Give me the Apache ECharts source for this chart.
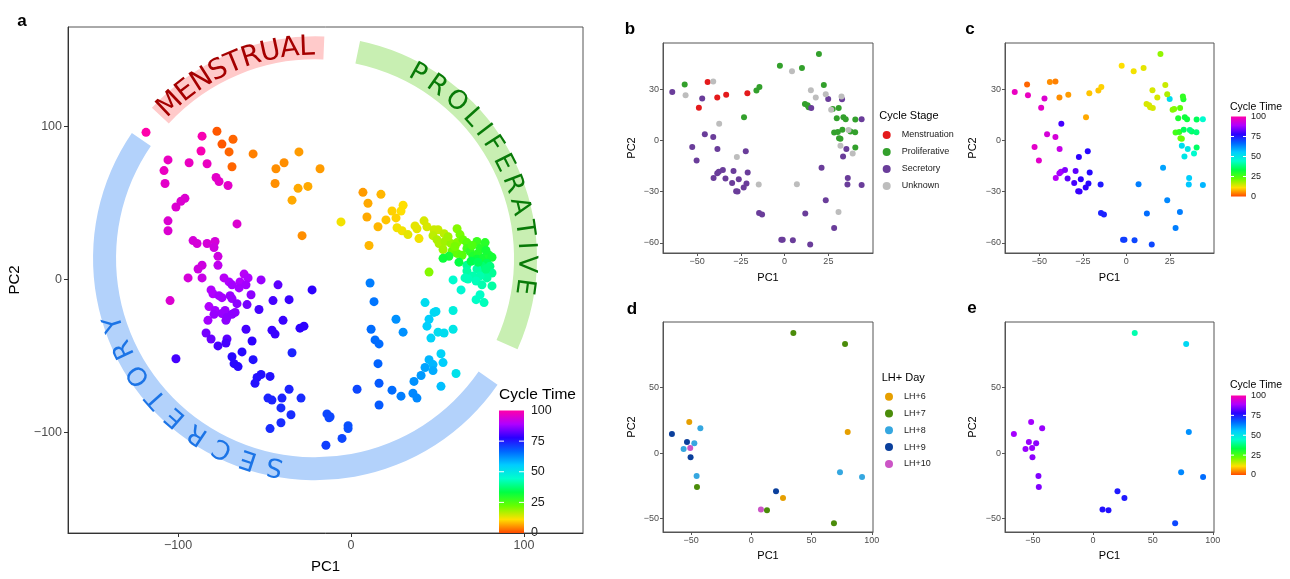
<!DOCTYPE html>
<html>
<head>
<meta charset="utf-8">
<script src="https://cdn.jsdelivr.net/npm/echarts@6/dist/echarts.min.js"></script>
<style>
  html, body { margin: 0; padding: 0; background: #fff; }
  #chart { width: 1290px; height: 579px; }
</style>
</head>
<body>
<div id="chart"></div>
<script>
// ---- data ----
// panel a: [PC1, PC2, cycle time]
const aPoints = [
  [-118.5,96.1,100],[-86.1,93.6,99],[-77.5,96.8,1],[-68.2,91.6,2],[-74.6,88.4,1],[-70.5,83.3,2],
  [-86.7,83.9,99],[-56.6,82.0,4],[-30.1,83.3,6],[-105.8,78.1,97],[-93.6,76.2,97],[-83.2,75.6,97],
  [-68.8,73.6,2],[-38.7,76.2,5],[-43.4,72.3,5],[-17.9,72.3,6],[-108.1,71.1,97],[-78.0,66.6,96],
  [-76.3,64.0,96],[-71.1,61.4,96],[-107.5,62.7,96],[-43.9,62.7,5],[-30.6,59.5,7],[-24.9,60.8,7],
  [-96.0,53.0,95],[-98.3,51.1,95],[-34.1,51.8,7],[-101.2,47.3,95],[-5.8,37.6,12],[-105.8,38.3,95],
  [-65.9,36.3,95],[-105.8,31.8,95],[-28.3,28.6,5],[-91.3,25.4,94],[-89.0,23.5,94],[-83.2,23.5,94],
  [-78.6,24.8,94],[-79.2,20.9,93],[-76.9,15.1,93],[-76.9,9.3,91],[-86.1,9.3,93],[-88.4,6.8,93],
  [-94.2,1.0,94],[-86.1,1.0,92],[-73.4,1.0,90],[-70.5,-1.6,89],[-68.8,-3.5,88],[-64.2,-1.6,89],
  [-61.8,3.5,90],[-59.5,1.0,89],[-60.7,-3.5,88],[-64.7,-5.5,88],[-52.0,-0.3,87],[-42.2,-3.5,82],
  [-22.5,-6.8,78],[-104.6,-13.8,95],[-80.9,-6.8,89],[-79.8,-9.3,89],[-76.3,-10.6,88],[-74.6,-11.9,88],
  [-69.9,-10.6,87],[-68.8,-12.5,87],[-65.9,-15.8,86],[-60.1,-16.4,84],[-57.8,-10.0,86],[-53.2,-19.6,80],
  [-45.1,-13.8,80],[-35.8,-13.2,79],[-82.1,-17.7,89],[-78.6,-20.3,88],[-79.2,-22.8,87],[-74.6,-22.2,87],
  [-72.8,-20.3,87],[-71.7,-24.8,86],[-68.8,-22.8,86],[-67.0,-21.5,86],[-72.3,-26.7,86],[-82.7,-26.7,88],
  [-39.3,-26.7,79],[-60.7,-32.5,80],[-45.7,-33.1,79],[-43.9,-35.7,79],[-29.5,-31.8,78],[-27.2,-30.5,78],
  [-83.8,-35.0,84],[-80.9,-38.9,83],[-71.7,-38.9,82],[-72.3,-41.5,80],[-76.9,-43.4,80],[-57.2,-40.2,78],
  [-101.2,-51.8,80],[-63.0,-47.3,77],[-34.1,-47.9,74],[-68.8,-50.5,77],[-56.6,-52.4,76],[-67.6,-55.0,77],
  [-65.3,-56.9,77],[-52.0,-62.1,76],[-46.8,-63.3,76],[-54.3,-64.0,76],[-55.5,-67.8,76],[-35.8,-71.7,74],
  [-48.0,-77.5,74],[-45.7,-78.8,74],[-39.9,-77.5,74],[-28.9,-77.5,73],[-40.5,-83.9,73],[-34.7,-88.4,73],
  [-40.5,-93.6,73],[-46.8,-97.4,73],[-13.9,-87.8,70],[-12.1,-89.7,70],[-12.7,-90.3,70],[-1.7,-95.5,69],
  [-1.7,-97.4,69],[-5.2,-103.8,70],[-14.5,-108.3,71],[11.0,-2.3,64],[13.3,-14.5,65],[26.0,-26.0,62],
  [11.6,-32.5,66],[30.1,-34.4,62],[13.9,-39.5,66],[16.2,-42.1,66],[15.6,-55.0,67],[16.2,-67.8,68],
  [3.5,-71.7,70],[16.2,-82.0,68],[23.7,-72.3,66],[28.9,-76.2,64],[36.4,-66.6,62],[35.8,-74.3,63],
  [38.1,-77.5,63],[40.5,-62.7,61],[42.8,-57.5,60],[45.1,-52.4,58],[47.4,-55.6,58],[47.4,-59.5,59],
  [52.0,-69.8,57],[52.0,-48.5,54],[53.2,-54.3,55],[60.7,-61.4,51],[42.8,-15.1,52],[45.1,-26.0,55],
  [43.9,-30.5,55],[48.0,-21.5,53],[49.1,-20.9,53],[46.2,-38.3,54],[50.3,-34.4,52],[53.8,-35.0,52],
  [59.0,-20.3,48],[59.0,-32.5,50],[6.9,56.9,6],[17.3,55.6,8],[9.8,49.8,7],[30.1,48.5,11],
  [23.7,44.7,10],[28.9,44.7,11],[9.2,40.8,7],[20.2,38.9,9],[26.0,40.2,10],[15.6,34.4,8],
  [26.6,33.8,12],[29.5,31.8,12],[32.9,29.3,13],[37.0,35.0,13],[38.1,33.1,13],[42.2,38.3,14],
  [43.9,34.4,14],[39.3,26.7,12],[48.0,32.5,15],[50.3,32.5,15],[53.8,29.9,16],[47.4,28.6,16],
  [49.7,26.0,17],[50.9,23.5,17],[54.3,24.8,18],[53.2,19.6,18],[57.8,23.5,19],[61.3,33.1,20],
  [63.0,29.3,21],[61.3,24.1,20],[64.7,26.0,22],[67.0,24.1,24],[72.8,24.8,27],[77.5,24.1,29],
  [58.4,18.3,22],[61.3,17.0,23],[64.2,15.8,24],[67.0,20.3,26],[68.8,18.3,28],[70.5,15.1,30],
  [73.4,17.0,29],[56.6,15.1,31],[53.2,13.8,32],[72.8,13.2,32],[76.3,13.8,31],[79.8,15.8,30],
  [81.5,14.5,31],[78.6,10.6,35],[75.7,8.7,37],[67.0,9.3,40],[67.0,5.5,41],[80.3,8.7,38],
  [79.8,4.2,39],[81.5,4.2,40],[76.3,4.2,40],[72.8,6.8,41],[70.5,2.3,42],[67.6,0.3,43],
  [65.9,1.0,43],[78.6,1.0,41],[74.6,2.3,42],[72.3,-1.0,43],[75.7,-3.5,42],[81.5,-4.2,41],
  [45.1,4.8,20],[59.0,-0.3,45],[63.6,-6.8,46],[72.3,-13.2,44],[74.6,-10.0,44],[76.9,-15.1,43],
  [10.4,22.2,8],[70.0,22.2,25],[74.6,20.3,29],[78.0,19.0,31],[69.4,11.9,34],[73.4,11.3,35],
  [78.0,6.8,38],[62.4,11.3,33],[60.1,21.5,21],[56.1,27.9,18]
];

// panels b & c: [PC1, PC2, stage, cycle time]
const bPoints = [
  [-44.0,34.3,'Menstruation',5],[-38.5,25.1,'Menstruation',5],[-33.4,26.8,'Menstruation',6],
  [-49.0,19.2,'Menstruation',96],[-21.3,27.6,'Menstruation',9],
  [-57.1,32.8,'Proliferative',2],[-16.1,29.2,'Proliferative',9],[-14.4,31.3,'Proliferative',10],
  [-23.2,13.6,'Proliferative',7],[-2.7,43.8,'Proliferative',11],[9.9,42.4,'Proliferative',13],
  [19.6,50.7,'Proliferative',19],[22.4,32.5,'Proliferative',15],[11.6,21.4,'Proliferative',14],
  [13.1,20.6,'Proliferative',14],[13.7,19.4,'Proliferative',14],[27.5,18.4,'Proliferative',20],
  [30.9,19.0,'Proliferative',23],[29.8,13.0,'Proliferative',30],[33.6,13.6,'Proliferative',32],
  [34.9,12.4,'Proliferative',32],[40.4,12.2,'Proliferative',35],[28.3,4.6,'Proliferative',26],
  [30.4,5.0,'Proliferative',28],[31.1,1.3,'Proliferative',21],[31.9,0.9,'Proliferative',22],
  [33.0,6.3,'Proliferative',35],[37.6,5.2,'Proliferative',36],[40.3,4.8,'Proliferative',38],
  [40.4,-4.2,'Proliferative',36],
  [-64.2,28.4,'Secretory',97],[-47.1,24.5,'Secretory',95],[-45.6,3.6,'Secretory',94],
  [-40.8,2.0,'Secretory',94],[-52.8,-3.8,'Secretory',96],[-50.3,-11.8,'Secretory',96],
  [-38.4,-5.0,'Secretory',92],[-22.2,-6.3,'Secretory',77],[-40.6,-22.1,'Secretory',90],
  [-38.5,-19.2,'Secretory',88],[-37.6,-18.3,'Secretory',88],[-35.3,-17.3,'Secretory',85],
  [-33.8,-22.4,'Secretory',82],[-29.2,-17.9,'Secretory',82],[-30.0,-24.9,'Secretory',80],
  [-26.2,-22.7,'Secretory',78],[-27.7,-29.8,'Secretory',79],[-26.9,-30.0,'Secretory',79],
  [-23.4,-27.6,'Secretory',78],[-21.8,-25.3,'Secretory',77],[-21.1,-18.8,'Secretory',77],
  [-14.6,-42.6,'Secretory',74],[-12.9,-43.4,'Secretory',74],[-1.9,-58.3,'Secretory',71],
  [-1.1,-58.3,'Secretory',71],[4.7,-58.5,'Secretory',70],[14.6,-61.0,'Secretory',70],
  [11.8,-42.9,'Secretory',66],[23.5,-35.1,'Secretory',63],[21.1,-16.1,'Secretory',60],
  [28.3,-51.3,'Secretory',64],[15.2,19.0,'Secretory',14],[24.9,24.3,'Secretory',52],
  [32.8,24.1,'Secretory',30],[44.0,12.4,'Secretory',45],[35.3,-5.0,'Secretory',50],
  [33.4,-9.5,'Secretory',50],[36.1,-22.0,'Secretory',55],[35.9,-25.9,'Secretory',56],
  [44.0,-26.1,'Secretory',58],
  [-40.8,34.5,'Unknown',4],[-56.6,26.5,'Unknown',97],[-37.4,9.7,'Unknown',80],
  [-27.3,-9.7,'Unknown',78],[-14.8,-25.9,'Unknown',75],[7.0,-25.7,'Unknown',64],
  [4.2,40.5,'Unknown',12],[15.0,29.4,'Unknown',14],[17.8,25.1,'Unknown',14],
  [23.5,27.0,'Unknown',17],[26.6,17.9,'Unknown',20],[32.5,25.7,'Unknown',28],
  [36.5,6.1,'Unknown',38],[31.9,-3.2,'Unknown',52],[38.9,-7.7,'Unknown',45],
  [30.8,-41.9,'Unknown',64]
];

// panels d & e: [PC1, PC2, LH+ day, cycle time]
const dPoints = [
  [-51.5,23.8,'LH+6',88],[80.0,16.2,'LH+6',62],[26.3,-34.2,'LH+6',75],
  [34.9,91.7,'LH+7',42],[77.8,83.3,'LH+7',53],[-45.1,-25.8,'LH+7',85],[13.0,-43.6,'LH+7',76],[68.6,-53.6,'LH+7',70],
  [-42.3,19.0,'LH+8',87],[-47.3,7.5,'LH+8',86],[-56.2,3.2,'LH+8',87],[-45.4,-17.4,'LH+8',85],[73.6,-14.6,'LH+8',63],[91.9,-18.2,'LH+8',66],
  [-65.9,14.6,'LH+9',88],[-53.4,8.5,'LH+9',87],[-50.4,-3.2,'LH+9',86],[20.5,-29.1,'LH+9',75],
  [-50.7,3.9,'LH+10',87],[8.0,-43.1,'LH+10',76]
];

const stages = ['Menstruation', 'Proliferative', 'Secretory', 'Unknown'];
const stageColors = ['#e41a1c', '#33a02c', '#6a3d9a', '#bdbdbd'];
const days = ['LH+6', 'LH+7', 'LH+8', 'LH+9', 'LH+10'];
const dayColors = ['#e69f00', '#4b8c0a', '#35a7e0', '#0a3f9c', '#cc55c6'];
const cycleTicks = [0, 25, 50, 75, 100];
const cycleColors = ['#ff4a00', '#ffe000', '#66ff00', '#00ff44', '#00ffcc',
  '#00ccff', '#0066ff', '#2a00ff', '#b000ff', '#ff00aa'];

// phase arcs around panel a (angles in degrees, counter-clockwise from +x)
const arcCentre = [-20.8, 13.8];
const arcs = [
  { label: 'MENSTRUAL', from: 87.6, to: 137.3, fill: '#ffcaca', text: '#a50000', size: 28, first: 133.3, last: 92.2 },
  { label: 'PROLIFERATIVE', from: -24.2, to: 78.3, fill: '#c8efb2', text: '#087a08', size: 26, first: 60.9, last: -7.7 },
  { label: 'SECRETORY', from: 145.6, to: 325.3, fill: '#b3d2fb', text: '#1c74e6', size: 26, first: 259, last: 198 }
];

// ---- chart ----
const FONT = '"Liberation Sans", Arial, sans-serif';
const minus = v => String(v).replace('-', '\u2212');
const chart = echarts.init(document.getElementById('chart'));

function xAx(gi, min, max, ticks, o) {
  return {
    gridIndex: gi, type: 'value', min: min, max: max,
    axisLine: { show: true, onZero: false, lineStyle: { color: o.line, width: 1 } },
    axisTick: { show: true, length: o.tick, customValues: ticks, lineStyle: { color: o.line } },
    axisLabel: { customValues: ticks, formatter: minus, color: '#4d4d4d', fontSize: o.fs, margin: o.margin, fontFamily: FONT },
    splitLine: { show: false },
    name: 'PC1', nameLocation: 'middle', nameGap: o.gap,
    nameTextStyle: { fontSize: o.nfs, color: '#000', fontFamily: FONT }
  };
}
function yAx(gi, min, max, ticks, o) {
  const a = xAx(gi, min, max, ticks, o);
  a.name = 'PC2';
  a.nameGap = o.ygap;
  return a;
}

const big = { line: '#333', tick: 4, fs: 12.5, margin: 6, gap: 26, ygap: 46, nfs: 15 };
const sm = { line: '#555', tick: 3, fs: 9, margin: 4, gap: 19, ygap: 26, nfs: 11 };
const sm2 = Object.assign({}, sm, { ygap: 27 });
const smd = Object.assign({}, sm, { gap: 18 });
const sme = Object.assign({}, sm2, { gap: 18 });

const border = { show: true, borderColor: '#555', borderWidth: 1 };
const legendText = { fontSize: 9, color: '#1a1a1a', lineHeight: 12, padding: [0, 0, 0, 6], fontFamily: FONT };

const option = {
  animation: false,
  textStyle: { fontFamily: FONT },
  grid: [
    Object.assign({ left: 68, top: 27, width: 515, height: 514 }, border),
    Object.assign({ left: 663, top: 43, width: 210, height: 210 }, border),
    Object.assign({ left: 1005, top: 43, width: 209, height: 210 }, border),
    Object.assign({ left: 663, top: 322, width: 210, height: 210 }, border),
    Object.assign({ left: 1005, top: 322, width: 209, height: 210 }, border)
  ],
  xAxis: [
    xAx(0, -163.6, 134.1, [-100, 0, 100], big),
    xAx(1, -69.5, 50.5, [-50, -25, 0, 25], sm),
    xAx(2, -69.8, 50.4, [-50, -25, 0, 25], sm2),
    xAx(3, -73.3, 101, [-50, 0, 50, 100], smd),
    xAx(4, -73.3, 101, [-50, 0, 50, 100], sme)
  ],
  yAxis: [
    yAx(0, -165.6, 164.9, [-100, 0, 100], big),
    yAx(1, -66, 57.1, [-60, -30, 0, 30], sm),
    yAx(2, -66, 57.1, [-60, -30, 0, 30], sm2),
    yAx(3, -60.2, 100.1, [-50, 0, 50], smd),
    yAx(4, -60.2, 100.1, [-50, 0, 50], sme)
  ],
  visualMap: {
    type: 'continuous', show: false, min: 0, max: 100, dimension: 2,
    seriesIndex: [0, 5, 11], inRange: { color: cycleColors }
  },
  legend: [
    {
      data: stages, orient: 'vertical', left: 882.7, top: 129, padding: 0, icon: 'circle',
      itemWidth: 8, itemHeight: 8, itemGap: 5, selectedMode: false, textStyle: legendText
    },
    {
      data: days, orient: 'vertical', left: 885, top: 390.7, padding: 0, icon: 'circle',
      itemWidth: 8, itemHeight: 8, itemGap: 4.8, selectedMode: false, textStyle: legendText
    }
  ],
  series: [].concat(
    [{ type: 'scatter', xAxisIndex: 0, yAxisIndex: 0, symbolSize: 9, itemStyle: { opacity: 1 }, data: aPoints }],
    stages.map((s, i) => ({
      name: s, type: 'scatter', xAxisIndex: 1, yAxisIndex: 1, symbolSize: 6,
      itemStyle: { color: stageColors[i], opacity: 1 },
      data: bPoints.filter(p => p[2] === s).map(p => [p[0], p[1]])
    })),
    [{ type: 'scatter', xAxisIndex: 2, yAxisIndex: 2, symbolSize: 6, itemStyle: { opacity: 1 },
       data: bPoints.map(p => [p[0], p[1], p[3]]) }],
    days.map((d, i) => ({
      name: d, type: 'scatter', xAxisIndex: 3, yAxisIndex: 3, symbolSize: 6,
      itemStyle: { color: dayColors[i], opacity: 1 },
      data: dPoints.filter(p => p[2] === d).map(p => [p[0], p[1]])
    })),
    [{ type: 'scatter', xAxisIndex: 4, yAxisIndex: 4, symbolSize: 6, itemStyle: { opacity: 1 },
       data: dPoints.map(p => [p[0], p[1], p[3]]) }]
  )
};
chart.setOption(option);

// ---- annotations ----
const els = [];
const rad = d => d * Math.PI / 180;

// panel letters
[['a', 22, 21], ['b', 630, 29], ['c', 970, 29], ['d', 632, 309], ['e', 972, 308]].forEach(l => {
  els.push({ type: 'text', x: l[1], y: l[2], style: { text: l[0], font: 'bold 17px ' + FONT, fill: '#000', align: 'center', verticalAlign: 'middle' } });
});

// arcs with curved labels
const c0 = chart.convertToPixel({ gridIndex: 0 }, arcCentre);
const R0 = 199, R1 = 222, RT = 211;
const ctx = document.createElement('canvas').getContext('2d');
arcs.forEach(a => {
  els.push({ type: 'sector', z2: 1,
    shape: { cx: c0[0], cy: c0[1], r0: R0, r: R1, startAngle: -rad(a.to), endAngle: -rad(a.from), clockwise: true },
    style: { fill: a.fill } });
  const font = a.size + 'px "DejaVu Sans"';
  ctx.font = font;
  const chars = a.label.split('');
  const w = chars.map(ch => ctx.measureText(ch).width);
  let base = 0;
  for (let i = 1; i < chars.length; i++) base += (w[i - 1] + w[i]) / 2;
  const span = RT * rad(a.first - a.last);
  const gap = (span - base) / (chars.length - 1);
  let pos = 0;
  chars.forEach((ch, i) => {
    if (i > 0) pos += (w[i - 1] + w[i]) / 2 + gap;
    const ang = rad(a.first) - pos / RT;
    els.push({ type: 'text', z2: 5,
      x: c0[0] + RT * Math.cos(ang), y: c0[1] - RT * Math.sin(ang),
      rotation: ang - Math.PI / 2,
      style: { text: ch, font: font, fill: a.text, align: 'center', verticalAlign: 'middle' } });
  });
});

// colour bars
function colourBar(title, tx, ty, tfs, x, y, w, h, lfs) {
  els.push({ type: 'text', x: tx, y: ty, style: { text: title, font: tfs + 'px ' + FONT, fill: '#000', verticalAlign: 'middle' } });
  els.push({ type: 'rect', shape: { x: x, y: y, width: w, height: h },
    style: { fill: new echarts.graphic.LinearGradient(0, 1, 0, 0,
      cycleColors.map((c, i) => ({ offset: i / (cycleColors.length - 1), color: c }))) } });
  cycleTicks.forEach(t => {
    const yy = y + h - h * t / 100;
    if (t > 0 && t < 100) {
      const tl = w / 5;
      els.push({ type: 'line', shape: { x1: x, y1: yy, x2: x + tl, y2: yy }, style: { stroke: '#fff', lineWidth: 1 } });
      els.push({ type: 'line', shape: { x1: x + w - tl, y1: yy, x2: x + w, y2: yy }, style: { stroke: '#fff', lineWidth: 1 } });
    }
    els.push({ type: 'text', x: x + w + lfs * 0.55, y: yy, style: { text: String(t), font: lfs + 'px ' + FONT, fill: '#1a1a1a', verticalAlign: 'middle' } });
  });
}
colourBar('Cycle Time', 499, 395, 15.5, 499, 410.5, 25, 122.5, 12.5);
colourBar('Cycle Time', 1230, 107, 10.5, 1231, 116.5, 15, 80, 9);
colourBar('Cycle Time', 1230, 385, 10.5, 1231, 395.5, 15, 79.5, 9);

// legend titles
els.push({ type: 'text', x: 879.3, y: 116, style: { text: 'Cycle Stage', font: '11px ' + FONT, fill: '#000', verticalAlign: 'middle' } });
els.push({ type: 'text', x: 881.7, y: 378, style: { text: 'LH+ Day', font: '11px ' + FONT, fill: '#000', verticalAlign: 'middle' } });

chart.setOption({ graphic: { elements: els } });
</script>
</body>
</html>
